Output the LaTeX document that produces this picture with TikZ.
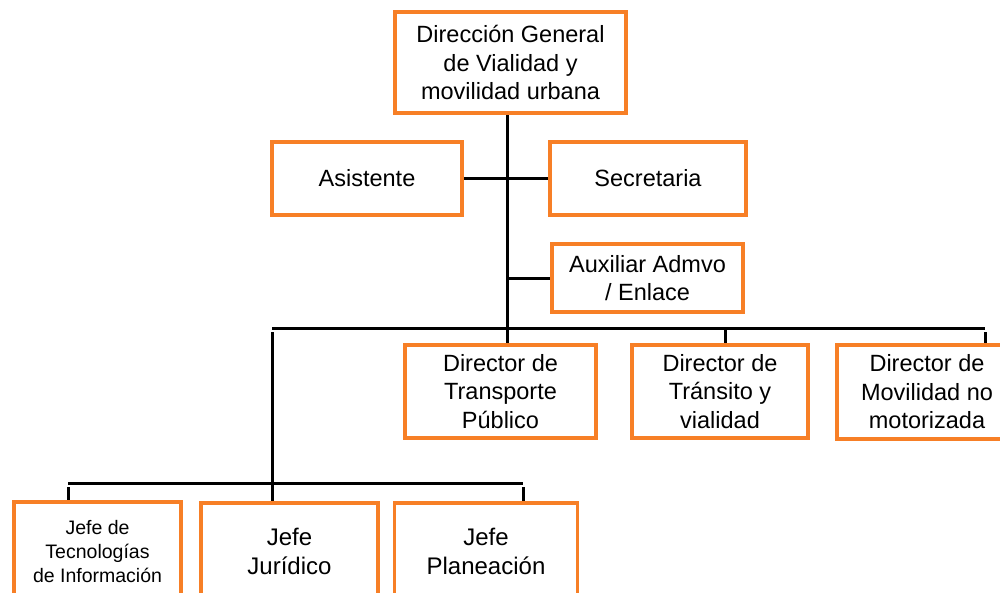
\documentclass[tikz,border=0pt]{standalone}
\usepackage{fontspec}
\setmainfont{Liberation Sans}
\usetikzlibrary{backgrounds}
\definecolor{orng}{RGB}{247,127,38}
\begin{document}
\begin{tikzpicture}[x=1pt,y=-1pt,
  box/.style={draw=orng,line width=3.5pt,fill=white,inner sep=0pt,align=center,
    font=\fontsize{23.5}{28.5}\selectfont},
  ln/.style={line width=3pt,draw=black}]
\useasboundingbox (0,0) rectangle (1000,592);
\clip (0,0) rectangle (1000,592);
\node[box,minimum width=231pt,minimum height=101pt] (top) at (510.5,62.5) {Dirección General\\de Vialidad y\\movilidad urbana};
\node[box,minimum width=190pt,minimum height=73pt] (asis) at (367,178.5) {Asistente};
\node[box,minimum width=196pt,minimum height=73pt] (sec) at (648,178.5) {Secretaria};
\node[box,minimum width=191pt,minimum height=68pt] (aux) at (647.5,278) {Auxiliar Admvo\\/ Enlace};
\node[box,minimum width=191pt,minimum height=93pt] (trans) at (500.5,391.5) {Director de\\Transporte\\Público};
\node[box,minimum width=176pt,minimum height=93pt] (tran) at (720,391.5) {Director de\\Tránsito y\\vialidad};
\node[box,minimum width=180pt,minimum height=94pt] (mov) at (927,392) {Director de\\Movilidad no\\motorizada};
\node[box,minimum width=167pt,minimum height=100pt,font=\fontsize{19.5}{24}\selectfont] (ti) at (97.5,552) {Jefe de\\Tecnologías\\de Información};
\node[box,minimum width=177pt,minimum height=97pt,font=\fontsize{24}{29.5}\selectfont] (jur) at (289.5,551.5) {Jefe\\Jurídico};
\node[box,minimum width=183pt,minimum height=97pt,font=\fontsize{24}{29.5}\selectfont] (plan) at (486,551.5) {Jefe\\Planeación};
\coordinate (tk) at (507,0);
\coordinate (barL) at (272,328);
\coordinate (barR) at (985,328);
\coordinate (b2L) at (68,483);
\coordinate (b2R) at (523,483);
\begin{pgfonlayer}{background}
\fill[white] (0,0) rectangle (1000,592);
\draw[ln] (top.south -| tk) -- (trans.north -| tk);
\draw[ln] (asis.east) -- (sec.west);
\draw[ln] (aux.west -| tk) -- (aux.west);
\draw[ln] (barL) -- (barR);
\draw[ln] ([yshift=-4pt]barL) -- (barL |- jur.north);
\draw[ln] ([yshift=-4pt]barR) -- (barR |- mov.north);
\draw[ln] ([xshift=5pt]tran.north |- barL) -- ([xshift=5pt]tran.north);
\draw[ln] (b2L) -- (b2R);
\draw[ln] ([yshift=-4pt]b2L) -- (b2L |- ti.north);
\draw[ln] ([yshift=-4pt]b2R) -- (b2R |- plan.north);
\end{pgfonlayer}
\end{tikzpicture}
\end{document}
